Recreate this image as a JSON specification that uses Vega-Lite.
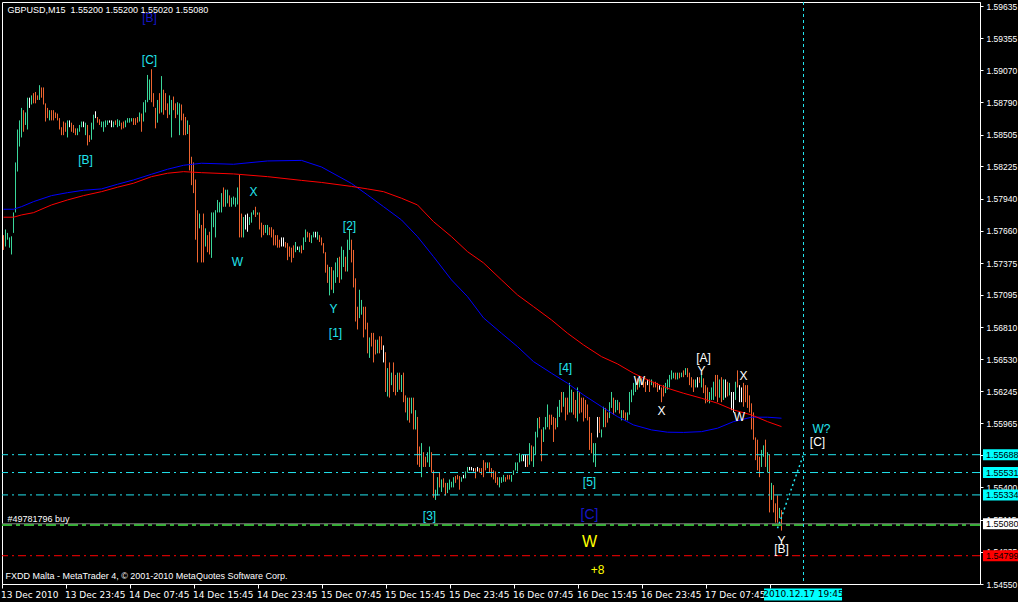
{
"$schema":"https://vega.github.io/schema/vega-lite/v6.json",
"width":978,"height":582,
"autosize":{"type":"none"},
"padding":{"left":2,"top":2,"right":38,"bottom":18},
"background":"#000000",
"config":{"view":{"stroke":"#ffffff","strokeWidth":1,"fill":"#000000"},"font":"Liberation Sans",
 "axis":{"labelOverlap":false,"labelFlush":false,"labelBound":false,"grid":false,"title":null},
 "axisQuantitative":{"labelOverlap":false,"tickCount":40},
 "axisY":{"labelOverlap":false}},
"resolve":{"scale":{"color":"independent"}},
"datasets":{
"bars":[
{"t":"2010-12-13T15:45Z","h":1.5762,"l":1.5749,"c":"d"},
{"t":"2010-12-13T16:00Z","h":1.5767,"l":1.5752,"c":"u"},
{"t":"2010-12-13T16:15Z","h":1.5764,"l":1.5758,"c":"u"},
{"t":"2010-12-13T16:30Z","h":1.5760,"l":1.5751,"c":"u"},
{"t":"2010-12-13T16:45Z","h":1.5761,"l":1.5745,"c":"u"},
{"t":"2010-12-13T17:00Z","h":1.5782,"l":1.5764,"c":"u"},
{"t":"2010-12-13T17:15Z","h":1.5826,"l":1.5782,"c":"u"},
{"t":"2010-12-13T17:30Z","h":1.5855,"l":1.5818,"c":"u"},
{"t":"2010-12-13T17:45Z","h":1.5863,"l":1.5840,"c":"u"},
{"t":"2010-12-13T18:00Z","h":1.5874,"l":1.5848,"c":"u"},
{"t":"2010-12-13T18:15Z","h":1.5872,"l":1.5853,"c":"d"},
{"t":"2010-12-13T18:30Z","h":1.5870,"l":1.5859,"c":"u"},
{"t":"2010-12-13T18:45Z","h":1.5883,"l":1.5855,"c":"u"},
{"t":"2010-12-13T19:00Z","h":1.5883,"l":1.5874,"c":"n"},
{"t":"2010-12-13T19:15Z","h":1.5885,"l":1.5877,"c":"u"},
{"t":"2010-12-13T19:30Z","h":1.5887,"l":1.5878,"c":"d"},
{"t":"2010-12-13T19:45Z","h":1.5888,"l":1.5878,"c":"d"},
{"t":"2010-12-13T20:00Z","h":1.5885,"l":1.5881,"c":"d"},
{"t":"2010-12-13T20:15Z","h":1.5894,"l":1.5881,"c":"u"},
{"t":"2010-12-13T20:30Z","h":1.5892,"l":1.5883,"c":"d"},
{"t":"2010-12-13T20:45Z","h":1.5892,"l":1.5877,"c":"d"},
{"t":"2010-12-13T21:00Z","h":1.5878,"l":1.5862,"c":"d"},
{"t":"2010-12-13T21:15Z","h":1.5874,"l":1.5865,"c":"d"},
{"t":"2010-12-13T21:30Z","h":1.5872,"l":1.5863,"c":"u"},
{"t":"2010-12-13T21:45Z","h":1.5872,"l":1.5863,"c":"d"},
{"t":"2010-12-13T22:00Z","h":1.5872,"l":1.5863,"c":"d"},
{"t":"2010-12-13T22:15Z","h":1.5870,"l":1.5865,"c":"d"},
{"t":"2010-12-13T22:30Z","h":1.5869,"l":1.5863,"c":"d"},
{"t":"2010-12-13T22:45Z","h":1.5865,"l":1.5855,"c":"d"},
{"t":"2010-12-13T23:00Z","h":1.5857,"l":1.5850,"c":"d"},
{"t":"2010-12-13T23:15Z","h":1.5862,"l":1.5850,"c":"d"},
{"t":"2010-12-13T23:30Z","h":1.5861,"l":1.5853,"c":"d"},
{"t":"2010-12-13T23:45Z","h":1.5863,"l":1.5848,"c":"u"},
{"t":"2010-12-14T00:00Z","h":1.5863,"l":1.5857,"c":"n"},
{"t":"2010-12-14T00:15Z","h":1.5861,"l":1.5853,"c":"d"},
{"t":"2010-12-14T00:30Z","h":1.5859,"l":1.5852,"c":"d"},
{"t":"2010-12-14T00:45Z","h":1.5856,"l":1.5850,"c":"d"},
{"t":"2010-12-14T01:00Z","h":1.5856,"l":1.5850,"c":"u"},
{"t":"2010-12-14T01:15Z","h":1.5859,"l":1.5853,"c":"u"},
{"t":"2010-12-14T01:30Z","h":1.5862,"l":1.5857,"c":"u"},
{"t":"2010-12-14T01:45Z","h":1.5862,"l":1.5857,"c":"n"},
{"t":"2010-12-14T02:00Z","h":1.5861,"l":1.5850,"c":"u"},
{"t":"2010-12-14T02:15Z","h":1.5859,"l":1.5841,"c":"d"},
{"t":"2010-12-14T02:30Z","h":1.5850,"l":1.5844,"c":"d"},
{"t":"2010-12-14T02:45Z","h":1.5861,"l":1.5846,"c":"u"},
{"t":"2010-12-14T03:00Z","h":1.5868,"l":1.5855,"c":"u"},
{"t":"2010-12-14T03:15Z","h":1.5871,"l":1.5865,"c":"n"},
{"t":"2010-12-14T03:30Z","h":1.5866,"l":1.5861,"c":"d"},
{"t":"2010-12-14T03:45Z","h":1.5864,"l":1.5859,"c":"d"},
{"t":"2010-12-14T04:00Z","h":1.5862,"l":1.5857,"c":"u"},
{"t":"2010-12-14T04:15Z","h":1.5862,"l":1.5853,"c":"u"},
{"t":"2010-12-14T04:30Z","h":1.5863,"l":1.5857,"c":"u"},
{"t":"2010-12-14T04:45Z","h":1.5863,"l":1.5859,"c":"u"},
{"t":"2010-12-14T05:00Z","h":1.5863,"l":1.5861,"c":"n"},
{"t":"2010-12-14T05:15Z","h":1.5863,"l":1.5857,"c":"n"},
{"t":"2010-12-14T05:30Z","h":1.5862,"l":1.5857,"c":"u"},
{"t":"2010-12-14T05:45Z","h":1.5863,"l":1.5859,"c":"d"},
{"t":"2010-12-14T06:00Z","h":1.5864,"l":1.5857,"c":"u"},
{"t":"2010-12-14T06:15Z","h":1.5863,"l":1.5858,"c":"u"},
{"t":"2010-12-14T06:30Z","h":1.5861,"l":1.5855,"c":"d"},
{"t":"2010-12-14T06:45Z","h":1.5862,"l":1.5856,"c":"d"},
{"t":"2010-12-14T07:00Z","h":1.5863,"l":1.5857,"c":"u"},
{"t":"2010-12-14T07:15Z","h":1.5865,"l":1.5861,"c":"u"},
{"t":"2010-12-14T07:30Z","h":1.5865,"l":1.5861,"c":"u"},
{"t":"2010-12-14T07:45Z","h":1.5865,"l":1.5862,"c":"u"},
{"t":"2010-12-14T08:00Z","h":1.5865,"l":1.5859,"c":"d"},
{"t":"2010-12-14T08:15Z","h":1.5865,"l":1.5859,"c":"d"},
{"t":"2010-12-14T08:30Z","h":1.5866,"l":1.5861,"c":"d"},
{"t":"2010-12-14T08:45Z","h":1.5870,"l":1.5862,"c":"u"},
{"t":"2010-12-14T09:00Z","h":1.5869,"l":1.5853,"c":"d"},
{"t":"2010-12-14T09:15Z","h":1.5879,"l":1.5862,"c":"u"},
{"t":"2010-12-14T09:30Z","h":1.5881,"l":1.5870,"c":"u"},
{"t":"2010-12-14T09:45Z","h":1.5903,"l":1.5879,"c":"u"},
{"t":"2010-12-14T10:00Z","h":1.5899,"l":1.5881,"c":"u"},
{"t":"2010-12-14T10:15Z","h":1.5908,"l":1.5879,"c":"d"},
{"t":"2010-12-14T10:30Z","h":1.5887,"l":1.5875,"c":"d"},
{"t":"2010-12-14T10:45Z","h":1.5874,"l":1.5856,"c":"d"},
{"t":"2010-12-14T11:00Z","h":1.5881,"l":1.5861,"c":"u"},
{"t":"2010-12-14T11:15Z","h":1.5887,"l":1.5869,"c":"d"},
{"t":"2010-12-14T11:30Z","h":1.5902,"l":1.5870,"c":"u"},
{"t":"2010-12-14T11:45Z","h":1.5890,"l":1.5868,"c":"d"},
{"t":"2010-12-14T12:00Z","h":1.5887,"l":1.5872,"c":"d"},
{"t":"2010-12-14T12:15Z","h":1.5878,"l":1.5865,"c":"d"},
{"t":"2010-12-14T12:30Z","h":1.5885,"l":1.5868,"c":"u"},
{"t":"2010-12-14T12:45Z","h":1.5881,"l":1.5848,"c":"u"},
{"t":"2010-12-14T13:00Z","h":1.5884,"l":1.5872,"c":"d"},
{"t":"2010-12-14T13:15Z","h":1.5878,"l":1.5865,"c":"d"},
{"t":"2010-12-14T13:30Z","h":1.5879,"l":1.5868,"c":"u"},
{"t":"2010-12-14T13:45Z","h":1.5878,"l":1.5850,"c":"u"},
{"t":"2010-12-14T14:00Z","h":1.5877,"l":1.5863,"c":"d"},
{"t":"2010-12-14T14:15Z","h":1.5869,"l":1.5850,"c":"d"},
{"t":"2010-12-14T14:30Z","h":1.5866,"l":1.5850,"c":"d"},
{"t":"2010-12-14T14:45Z","h":1.5863,"l":1.5851,"c":"u"},
{"t":"2010-12-14T15:00Z","h":1.5859,"l":1.5819,"c":"d"},
{"t":"2010-12-14T15:15Z","h":1.5831,"l":1.5806,"c":"d"},
{"t":"2010-12-14T15:30Z","h":1.5826,"l":1.5799,"c":"d"},
{"t":"2010-12-14T15:45Z","h":1.5811,"l":1.5758,"c":"d"},
{"t":"2010-12-14T16:00Z","h":1.5784,"l":1.5738,"c":"d"},
{"t":"2010-12-14T16:15Z","h":1.5781,"l":1.5768,"c":"u"},
{"t":"2010-12-14T16:30Z","h":1.5771,"l":1.5738,"c":"d"},
{"t":"2010-12-14T16:45Z","h":1.5781,"l":1.5738,"c":"d"},
{"t":"2010-12-14T17:00Z","h":1.5768,"l":1.5752,"c":"u"},
{"t":"2010-12-14T17:15Z","h":1.5762,"l":1.5747,"c":"d"},
{"t":"2010-12-14T17:30Z","h":1.5765,"l":1.5745,"c":"d"},
{"t":"2010-12-14T17:45Z","h":1.5782,"l":1.5742,"c":"u"},
{"t":"2010-12-14T18:00Z","h":1.5782,"l":1.5769,"c":"u"},
{"t":"2010-12-14T18:15Z","h":1.5784,"l":1.5760,"c":"u"},
{"t":"2010-12-14T18:30Z","h":1.5793,"l":1.5782,"c":"u"},
{"t":"2010-12-14T18:45Z","h":1.5791,"l":1.5782,"c":"u"},
{"t":"2010-12-14T19:00Z","h":1.5799,"l":1.5782,"c":"u"},
{"t":"2010-12-14T19:15Z","h":1.5804,"l":1.5787,"c":"d"},
{"t":"2010-12-14T19:30Z","h":1.5802,"l":1.5787,"c":"u"},
{"t":"2010-12-14T19:45Z","h":1.5802,"l":1.5790,"c":"u"},
{"t":"2010-12-14T20:00Z","h":1.5797,"l":1.5787,"c":"d"},
{"t":"2010-12-14T20:15Z","h":1.5795,"l":1.5787,"c":"u"},
{"t":"2010-12-14T20:30Z","h":1.5796,"l":1.5789,"c":"u"},
{"t":"2010-12-14T20:45Z","h":1.5795,"l":1.5787,"c":"u"},
{"t":"2010-12-14T21:00Z","h":1.5804,"l":1.5789,"c":"u"},
{"t":"2010-12-14T21:15Z","h":1.5815,"l":1.5760,"c":"d"},
{"t":"2010-12-14T21:30Z","h":1.5781,"l":1.5760,"c":"d"},
{"t":"2010-12-14T21:45Z","h":1.5778,"l":1.5760,"c":"u"},
{"t":"2010-12-14T22:00Z","h":1.5780,"l":1.5767,"c":"n"},
{"t":"2010-12-14T22:15Z","h":1.5781,"l":1.5765,"c":"n"},
{"t":"2010-12-14T22:30Z","h":1.5778,"l":1.5771,"c":"u"},
{"t":"2010-12-14T22:45Z","h":1.5782,"l":1.5773,"c":"u"},
{"t":"2010-12-14T23:00Z","h":1.5784,"l":1.5780,"c":"u"},
{"t":"2010-12-14T23:15Z","h":1.5787,"l":1.5778,"c":"d"},
{"t":"2010-12-14T23:30Z","h":1.5782,"l":1.5780,"c":"u"},
{"t":"2010-12-14T23:45Z","h":1.5782,"l":1.5767,"c":"d"},
{"t":"2010-12-15T00:00Z","h":1.5773,"l":1.5760,"c":"d"},
{"t":"2010-12-15T00:15Z","h":1.5771,"l":1.5762,"c":"d"},
{"t":"2010-12-15T00:30Z","h":1.5771,"l":1.5764,"c":"u"},
{"t":"2010-12-15T00:45Z","h":1.5771,"l":1.5762,"c":"u"},
{"t":"2010-12-15T01:00Z","h":1.5769,"l":1.5762,"c":"d"},
{"t":"2010-12-15T01:15Z","h":1.5769,"l":1.5760,"c":"d"},
{"t":"2010-12-15T01:30Z","h":1.5767,"l":1.5753,"c":"d"},
{"t":"2010-12-15T01:45Z","h":1.5762,"l":1.5753,"c":"d"},
{"t":"2010-12-15T02:00Z","h":1.5762,"l":1.5751,"c":"d"},
{"t":"2010-12-15T02:15Z","h":1.5758,"l":1.5751,"c":"d"},
{"t":"2010-12-15T02:30Z","h":1.5760,"l":1.5752,"c":"n"},
{"t":"2010-12-15T02:45Z","h":1.5760,"l":1.5752,"c":"n"},
{"t":"2010-12-15T03:00Z","h":1.5756,"l":1.5751,"c":"d"},
{"t":"2010-12-15T03:15Z","h":1.5755,"l":1.5740,"c":"d"},
{"t":"2010-12-15T03:30Z","h":1.5752,"l":1.5743,"c":"d"},
{"t":"2010-12-15T03:45Z","h":1.5751,"l":1.5738,"c":"d"},
{"t":"2010-12-15T04:00Z","h":1.5753,"l":1.5742,"c":"d"},
{"t":"2010-12-15T04:15Z","h":1.5756,"l":1.5747,"c":"u"},
{"t":"2010-12-15T04:30Z","h":1.5752,"l":1.5749,"c":"n"},
{"t":"2010-12-15T04:45Z","h":1.5752,"l":1.5747,"c":"u"},
{"t":"2010-12-15T05:00Z","h":1.5753,"l":1.5746,"c":"d"},
{"t":"2010-12-15T05:15Z","h":1.5760,"l":1.5749,"c":"u"},
{"t":"2010-12-15T05:30Z","h":1.5767,"l":1.5756,"c":"u"},
{"t":"2010-12-15T05:45Z","h":1.5765,"l":1.5760,"c":"d"},
{"t":"2010-12-15T06:00Z","h":1.5764,"l":1.5756,"c":"d"},
{"t":"2010-12-15T06:15Z","h":1.5762,"l":1.5755,"c":"u"},
{"t":"2010-12-15T06:30Z","h":1.5765,"l":1.5760,"c":"u"},
{"t":"2010-12-15T06:45Z","h":1.5765,"l":1.5760,"c":"n"},
{"t":"2010-12-15T07:00Z","h":1.5765,"l":1.5758,"c":"u"},
{"t":"2010-12-15T07:15Z","h":1.5762,"l":1.5756,"c":"d"},
{"t":"2010-12-15T07:30Z","h":1.5760,"l":1.5753,"c":"d"},
{"t":"2010-12-15T07:45Z","h":1.5755,"l":1.5746,"c":"d"},
{"t":"2010-12-15T08:00Z","h":1.5747,"l":1.5729,"c":"d"},
{"t":"2010-12-15T08:15Z","h":1.5736,"l":1.5720,"c":"d"},
{"t":"2010-12-15T08:30Z","h":1.5734,"l":1.5709,"c":"u"},
{"t":"2010-12-15T08:45Z","h":1.5734,"l":1.5714,"c":"d"},
{"t":"2010-12-15T09:00Z","h":1.5731,"l":1.5711,"c":"u"},
{"t":"2010-12-15T09:15Z","h":1.5738,"l":1.5720,"c":"u"},
{"t":"2010-12-15T09:30Z","h":1.5742,"l":1.5725,"c":"u"},
{"t":"2010-12-15T09:45Z","h":1.5743,"l":1.5720,"c":"d"},
{"t":"2010-12-15T10:00Z","h":1.5752,"l":1.5723,"c":"u"},
{"t":"2010-12-15T10:15Z","h":1.5749,"l":1.5734,"c":"u"},
{"t":"2010-12-15T10:30Z","h":1.5743,"l":1.5730,"c":"d"},
{"t":"2010-12-15T10:45Z","h":1.5758,"l":1.5730,"c":"u"},
{"t":"2010-12-15T11:00Z","h":1.5767,"l":1.5749,"c":"u"},
{"t":"2010-12-15T11:15Z","h":1.5758,"l":1.5738,"c":"d"},
{"t":"2010-12-15T11:30Z","h":1.5749,"l":1.5716,"c":"d"},
{"t":"2010-12-15T11:45Z","h":1.5724,"l":1.5686,"c":"d"},
{"t":"2010-12-15T12:00Z","h":1.5699,"l":1.5679,"c":"d"},
{"t":"2010-12-15T12:15Z","h":1.5714,"l":1.5689,"c":"u"},
{"t":"2010-12-15T12:30Z","h":1.5705,"l":1.5692,"c":"u"},
{"t":"2010-12-15T12:45Z","h":1.5699,"l":1.5672,"c":"d"},
{"t":"2010-12-15T13:00Z","h":1.5699,"l":1.5679,"c":"d"},
{"t":"2010-12-15T13:15Z","h":1.5685,"l":1.5658,"c":"d"},
{"t":"2010-12-15T13:30Z","h":1.5672,"l":1.5654,"c":"u"},
{"t":"2010-12-15T13:45Z","h":1.5676,"l":1.5664,"c":"d"},
{"t":"2010-12-15T14:00Z","h":1.5676,"l":1.5650,"c":"d"},
{"t":"2010-12-15T14:15Z","h":1.5670,"l":1.5657,"c":"d"},
{"t":"2010-12-15T14:30Z","h":1.5670,"l":1.5658,"c":"u"},
{"t":"2010-12-15T14:45Z","h":1.5673,"l":1.5658,"c":"d"},
{"t":"2010-12-15T15:00Z","h":1.5673,"l":1.5661,"c":"d"},
{"t":"2010-12-15T15:15Z","h":1.5665,"l":1.5650,"c":"n"},
{"t":"2010-12-15T15:30Z","h":1.5659,"l":1.5624,"c":"d"},
{"t":"2010-12-15T15:45Z","h":1.5645,"l":1.5620,"c":"u"},
{"t":"2010-12-15T16:00Z","h":1.5650,"l":1.5619,"c":"d"},
{"t":"2010-12-15T16:15Z","h":1.5641,"l":1.5630,"c":"u"},
{"t":"2010-12-15T16:30Z","h":1.5650,"l":1.5624,"c":"d"},
{"t":"2010-12-15T16:45Z","h":1.5639,"l":1.5621,"c":"d"},
{"t":"2010-12-15T17:00Z","h":1.5641,"l":1.5624,"c":"u"},
{"t":"2010-12-15T17:15Z","h":1.5641,"l":1.5626,"c":"d"},
{"t":"2010-12-15T17:30Z","h":1.5639,"l":1.5624,"c":"u"},
{"t":"2010-12-15T17:45Z","h":1.5641,"l":1.5615,"c":"d"},
{"t":"2010-12-15T18:00Z","h":1.5621,"l":1.5606,"c":"d"},
{"t":"2010-12-15T18:15Z","h":1.5619,"l":1.5599,"c":"u"},
{"t":"2010-12-15T18:30Z","h":1.5619,"l":1.5597,"c":"d"},
{"t":"2010-12-15T18:45Z","h":1.5619,"l":1.5605,"c":"u"},
{"t":"2010-12-15T19:00Z","h":1.5619,"l":1.5591,"c":"d"},
{"t":"2010-12-15T19:15Z","h":1.5608,"l":1.5591,"c":"u"},
{"t":"2010-12-15T19:30Z","h":1.5602,"l":1.5560,"c":"d"},
{"t":"2010-12-15T19:45Z","h":1.5576,"l":1.5558,"c":"d"},
{"t":"2010-12-15T20:00Z","h":1.5579,"l":1.5549,"c":"u"},
{"t":"2010-12-15T20:15Z","h":1.5571,"l":1.5558,"c":"d"},
{"t":"2010-12-15T20:30Z","h":1.5567,"l":1.5558,"c":"d"},
{"t":"2010-12-15T20:45Z","h":1.5571,"l":1.5562,"c":"u"},
{"t":"2010-12-15T21:00Z","h":1.5576,"l":1.5558,"c":"u"},
{"t":"2010-12-15T21:15Z","h":1.5571,"l":1.5553,"c":"d"},
{"t":"2010-12-15T21:30Z","h":1.5555,"l":1.5531,"c":"d"},
{"t":"2010-12-15T21:45Z","h":1.5538,"l":1.5529,"c":"u"},
{"t":"2010-12-15T22:00Z","h":1.5549,"l":1.5533,"c":"u"},
{"t":"2010-12-15T22:15Z","h":1.5553,"l":1.5540,"c":"d"},
{"t":"2010-12-15T22:30Z","h":1.5547,"l":1.5536,"c":"u"},
{"t":"2010-12-15T22:45Z","h":1.5548,"l":1.5540,"c":"d"},
{"t":"2010-12-15T23:00Z","h":1.5544,"l":1.5533,"c":"d"},
{"t":"2010-12-15T23:15Z","h":1.5544,"l":1.5535,"c":"u"},
{"t":"2010-12-15T23:30Z","h":1.5547,"l":1.5538,"c":"u"},
{"t":"2010-12-15T23:45Z","h":1.5545,"l":1.5540,"c":"u"},
{"t":"2010-12-16T00:00Z","h":1.5549,"l":1.5540,"c":"u"},
{"t":"2010-12-16T00:15Z","h":1.5550,"l":1.5544,"c":"d"},
{"t":"2010-12-16T00:30Z","h":1.5551,"l":1.5547,"c":"d"},
{"t":"2010-12-16T00:45Z","h":1.5550,"l":1.5538,"c":"d"},
{"t":"2010-12-16T01:00Z","h":1.5549,"l":1.5545,"c":"u"},
{"t":"2010-12-16T01:15Z","h":1.5551,"l":1.5548,"c":"n"},
{"t":"2010-12-16T01:30Z","h":1.5554,"l":1.5548,"c":"u"},
{"t":"2010-12-16T01:45Z","h":1.5558,"l":1.5553,"c":"u"},
{"t":"2010-12-16T02:00Z","h":1.5558,"l":1.5555,"c":"n"},
{"t":"2010-12-16T02:15Z","h":1.5558,"l":1.5555,"c":"n"},
{"t":"2010-12-16T02:30Z","h":1.5557,"l":1.5554,"c":"n"},
{"t":"2010-12-16T02:45Z","h":1.5557,"l":1.5548,"c":"d"},
{"t":"2010-12-16T03:00Z","h":1.5558,"l":1.5554,"c":"n"},
{"t":"2010-12-16T03:15Z","h":1.5557,"l":1.5553,"c":"d"},
{"t":"2010-12-16T03:30Z","h":1.5557,"l":1.5551,"c":"d"},
{"t":"2010-12-16T03:45Z","h":1.5564,"l":1.5549,"c":"d"},
{"t":"2010-12-16T04:00Z","h":1.5562,"l":1.5555,"c":"d"},
{"t":"2010-12-16T04:15Z","h":1.5562,"l":1.5557,"c":"u"},
{"t":"2010-12-16T04:30Z","h":1.5562,"l":1.5553,"c":"d"},
{"t":"2010-12-16T04:45Z","h":1.5557,"l":1.5549,"c":"d"},
{"t":"2010-12-16T05:00Z","h":1.5555,"l":1.5547,"c":"d"},
{"t":"2010-12-16T05:15Z","h":1.5554,"l":1.5544,"c":"d"},
{"t":"2010-12-16T05:30Z","h":1.5549,"l":1.5542,"c":"d"},
{"t":"2010-12-16T05:45Z","h":1.5549,"l":1.5540,"c":"u"},
{"t":"2010-12-16T06:00Z","h":1.5549,"l":1.5544,"c":"u"},
{"t":"2010-12-16T06:15Z","h":1.5551,"l":1.5545,"c":"u"},
{"t":"2010-12-16T06:30Z","h":1.5549,"l":1.5545,"c":"d"},
{"t":"2010-12-16T06:45Z","h":1.5551,"l":1.5547,"c":"d"},
{"t":"2010-12-16T07:00Z","h":1.5551,"l":1.5547,"c":"d"},
{"t":"2010-12-16T07:15Z","h":1.5551,"l":1.5545,"c":"u"},
{"t":"2010-12-16T07:30Z","h":1.5555,"l":1.5551,"c":"u"},
{"t":"2010-12-16T07:45Z","h":1.5562,"l":1.5555,"c":"u"},
{"t":"2010-12-16T08:00Z","h":1.5562,"l":1.5554,"c":"u"},
{"t":"2010-12-16T08:15Z","h":1.5570,"l":1.5562,"c":"u"},
{"t":"2010-12-16T08:30Z","h":1.5569,"l":1.5563,"c":"u"},
{"t":"2010-12-16T08:45Z","h":1.5569,"l":1.5563,"c":"n"},
{"t":"2010-12-16T09:00Z","h":1.5569,"l":1.5558,"c":"n"},
{"t":"2010-12-16T09:15Z","h":1.5569,"l":1.5558,"c":"d"},
{"t":"2010-12-16T09:30Z","h":1.5579,"l":1.5560,"c":"u"},
{"t":"2010-12-16T09:45Z","h":1.5577,"l":1.5563,"c":"d"},
{"t":"2010-12-16T10:00Z","h":1.5576,"l":1.5558,"c":"u"},
{"t":"2010-12-16T10:15Z","h":1.5589,"l":1.5569,"c":"u"},
{"t":"2010-12-16T10:30Z","h":1.5601,"l":1.5584,"c":"u"},
{"t":"2010-12-16T10:45Z","h":1.5602,"l":1.5592,"c":"d"},
{"t":"2010-12-16T11:00Z","h":1.5591,"l":1.5563,"c":"d"},
{"t":"2010-12-16T11:15Z","h":1.5593,"l":1.5580,"c":"u"},
{"t":"2010-12-16T11:30Z","h":1.5602,"l":1.5591,"c":"u"},
{"t":"2010-12-16T11:45Z","h":1.5613,"l":1.5593,"c":"u"},
{"t":"2010-12-16T12:00Z","h":1.5604,"l":1.5591,"c":"d"},
{"t":"2010-12-16T12:15Z","h":1.5604,"l":1.5595,"c":"d"},
{"t":"2010-12-16T12:30Z","h":1.5602,"l":1.5580,"c":"d"},
{"t":"2010-12-16T12:45Z","h":1.5601,"l":1.5591,"c":"d"},
{"t":"2010-12-16T13:00Z","h":1.5611,"l":1.5593,"c":"u"},
{"t":"2010-12-16T13:15Z","h":1.5617,"l":1.5602,"c":"u"},
{"t":"2010-12-16T13:30Z","h":1.5624,"l":1.5606,"c":"d"},
{"t":"2010-12-16T13:45Z","h":1.5624,"l":1.5611,"c":"u"},
{"t":"2010-12-16T14:00Z","h":1.5619,"l":1.5599,"c":"d"},
{"t":"2010-12-16T14:15Z","h":1.5619,"l":1.5604,"c":"d"},
{"t":"2010-12-16T14:30Z","h":1.5632,"l":1.5606,"c":"u"},
{"t":"2010-12-16T14:45Z","h":1.5626,"l":1.5606,"c":"u"},
{"t":"2010-12-16T15:00Z","h":1.5624,"l":1.5604,"c":"d"},
{"t":"2010-12-16T15:15Z","h":1.5617,"l":1.5601,"c":"d"},
{"t":"2010-12-16T15:30Z","h":1.5628,"l":1.5598,"c":"u"},
{"t":"2010-12-16T15:45Z","h":1.5624,"l":1.5605,"c":"d"},
{"t":"2010-12-16T16:00Z","h":1.5619,"l":1.5606,"c":"d"},
{"t":"2010-12-16T16:15Z","h":1.5619,"l":1.5598,"c":"d"},
{"t":"2010-12-16T16:30Z","h":1.5617,"l":1.5601,"c":"d"},
{"t":"2010-12-16T16:45Z","h":1.5613,"l":1.5599,"c":"d"},
{"t":"2010-12-16T17:00Z","h":1.5602,"l":1.5573,"c":"d"},
{"t":"2010-12-16T17:15Z","h":1.5588,"l":1.5570,"c":"d"},
{"t":"2010-12-16T17:30Z","h":1.5579,"l":1.5562,"c":"u"},
{"t":"2010-12-16T17:45Z","h":1.5579,"l":1.5558,"c":"u"},
{"t":"2010-12-16T18:00Z","h":1.5602,"l":1.5584,"c":"n"},
{"t":"2010-12-16T18:15Z","h":1.5602,"l":1.5588,"c":"d"},
{"t":"2010-12-16T18:30Z","h":1.5591,"l":1.5584,"c":"u"},
{"t":"2010-12-16T18:45Z","h":1.5611,"l":1.5593,"c":"u"},
{"t":"2010-12-16T19:00Z","h":1.5610,"l":1.5593,"c":"d"},
{"t":"2010-12-16T19:15Z","h":1.5606,"l":1.5597,"c":"d"},
{"t":"2010-12-16T19:30Z","h":1.5615,"l":1.5601,"c":"u"},
{"t":"2010-12-16T19:45Z","h":1.5624,"l":1.5610,"c":"u"},
{"t":"2010-12-16T20:00Z","h":1.5619,"l":1.5604,"c":"d"},
{"t":"2010-12-16T20:15Z","h":1.5617,"l":1.5606,"c":"u"},
{"t":"2010-12-16T20:30Z","h":1.5617,"l":1.5608,"c":"u"},
{"t":"2010-12-16T20:45Z","h":1.5615,"l":1.5605,"c":"d"},
{"t":"2010-12-16T21:00Z","h":1.5608,"l":1.5599,"c":"u"},
{"t":"2010-12-16T21:15Z","h":1.5608,"l":1.5601,"c":"d"},
{"t":"2010-12-16T21:30Z","h":1.5606,"l":1.5599,"c":"d"},
{"t":"2010-12-16T21:45Z","h":1.5606,"l":1.5599,"c":"u"},
{"t":"2010-12-16T22:00Z","h":1.5624,"l":1.5604,"c":"u"},
{"t":"2010-12-16T22:15Z","h":1.5626,"l":1.5615,"c":"u"},
{"t":"2010-12-16T22:30Z","h":1.5632,"l":1.5621,"c":"u"},
{"t":"2010-12-16T22:45Z","h":1.5635,"l":1.5624,"c":"u"},
{"t":"2010-12-16T23:00Z","h":1.5636,"l":1.5626,"c":"d"},
{"t":"2010-12-16T23:15Z","h":1.5635,"l":1.5628,"c":"u"},
{"t":"2010-12-16T23:30Z","h":1.5636,"l":1.5630,"c":"d"},
{"t":"2010-12-16T23:45Z","h":1.5635,"l":1.5628,"c":"d"},
{"t":"2010-12-17T00:00Z","h":1.5633,"l":1.5624,"c":"d"},
{"t":"2010-12-17T00:15Z","h":1.5635,"l":1.5630,"c":"n"},
{"t":"2010-12-17T00:30Z","h":1.5635,"l":1.5624,"c":"d"},
{"t":"2010-12-17T00:45Z","h":1.5635,"l":1.5630,"c":"u"},
{"t":"2010-12-17T01:00Z","h":1.5633,"l":1.5628,"c":"d"},
{"t":"2010-12-17T01:15Z","h":1.5633,"l":1.5628,"c":"d"},
{"t":"2010-12-17T01:30Z","h":1.5632,"l":1.5624,"c":"d"},
{"t":"2010-12-17T01:45Z","h":1.5630,"l":1.5626,"c":"n"},
{"t":"2010-12-17T02:00Z","h":1.5628,"l":1.5615,"c":"d"},
{"t":"2010-12-17T02:15Z","h":1.5630,"l":1.5620,"c":"d"},
{"t":"2010-12-17T02:30Z","h":1.5632,"l":1.5623,"c":"u"},
{"t":"2010-12-17T02:45Z","h":1.5635,"l":1.5626,"c":"u"},
{"t":"2010-12-17T03:00Z","h":1.5639,"l":1.5628,"c":"u"},
{"t":"2010-12-17T03:15Z","h":1.5643,"l":1.5635,"c":"u"},
{"t":"2010-12-17T03:30Z","h":1.5641,"l":1.5636,"c":"u"},
{"t":"2010-12-17T03:45Z","h":1.5641,"l":1.5635,"c":"d"},
{"t":"2010-12-17T04:00Z","h":1.5641,"l":1.5635,"c":"u"},
{"t":"2010-12-17T04:15Z","h":1.5641,"l":1.5636,"c":"d"},
{"t":"2010-12-17T04:30Z","h":1.5641,"l":1.5637,"c":"u"},
{"t":"2010-12-17T04:45Z","h":1.5643,"l":1.5637,"c":"d"},
{"t":"2010-12-17T05:00Z","h":1.5645,"l":1.5639,"c":"u"},
{"t":"2010-12-17T05:15Z","h":1.5645,"l":1.5637,"c":"d"},
{"t":"2010-12-17T05:30Z","h":1.5641,"l":1.5630,"c":"d"},
{"t":"2010-12-17T05:45Z","h":1.5637,"l":1.5628,"c":"d"},
{"t":"2010-12-17T06:00Z","h":1.5635,"l":1.5624,"c":"d"},
{"t":"2010-12-17T06:15Z","h":1.5635,"l":1.5628,"c":"u"},
{"t":"2010-12-17T06:30Z","h":1.5637,"l":1.5628,"c":"n"},
{"t":"2010-12-17T06:45Z","h":1.5637,"l":1.5632,"c":"d"},
{"t":"2010-12-17T07:00Z","h":1.5639,"l":1.5628,"c":"u"},
{"t":"2010-12-17T07:15Z","h":1.5636,"l":1.5623,"c":"d"},
{"t":"2010-12-17T07:30Z","h":1.5630,"l":1.5614,"c":"d"},
{"t":"2010-12-17T07:45Z","h":1.5628,"l":1.5615,"c":"d"},
{"t":"2010-12-17T08:00Z","h":1.5624,"l":1.5614,"c":"u"},
{"t":"2010-12-17T08:15Z","h":1.5628,"l":1.5617,"c":"u"},
{"t":"2010-12-17T08:30Z","h":1.5633,"l":1.5617,"c":"u"},
{"t":"2010-12-17T08:45Z","h":1.5639,"l":1.5620,"c":"d"},
{"t":"2010-12-17T09:00Z","h":1.5639,"l":1.5615,"c":"d"},
{"t":"2010-12-17T09:15Z","h":1.5635,"l":1.5619,"c":"u"},
{"t":"2010-12-17T09:30Z","h":1.5637,"l":1.5615,"c":"d"},
{"t":"2010-12-17T09:45Z","h":1.5635,"l":1.5617,"c":"u"},
{"t":"2010-12-17T10:00Z","h":1.5635,"l":1.5619,"c":"n"},
{"t":"2010-12-17T10:15Z","h":1.5633,"l":1.5620,"c":"d"},
{"t":"2010-12-17T10:30Z","h":1.5632,"l":1.5621,"c":"u"},
{"t":"2010-12-17T10:45Z","h":1.5624,"l":1.5608,"c":"n"},
{"t":"2010-12-17T11:00Z","h":1.5624,"l":1.5606,"c":"n"},
{"t":"2010-12-17T11:15Z","h":1.5633,"l":1.5617,"c":"u"},
{"t":"2010-12-17T11:30Z","h":1.5643,"l":1.5628,"c":"d"},
{"t":"2010-12-17T11:45Z","h":1.5630,"l":1.5615,"c":"n"},
{"t":"2010-12-17T12:00Z","h":1.5628,"l":1.5615,"c":"n"},
{"t":"2010-12-17T12:15Z","h":1.5632,"l":1.5611,"c":"d"},
{"t":"2010-12-17T12:30Z","h":1.5630,"l":1.5615,"c":"d"},
{"t":"2010-12-17T12:45Z","h":1.5630,"l":1.5610,"c":"d"},
{"t":"2010-12-17T13:00Z","h":1.5621,"l":1.5606,"c":"d"},
{"t":"2010-12-17T13:15Z","h":1.5614,"l":1.5591,"c":"d"},
{"t":"2010-12-17T13:30Z","h":1.5606,"l":1.5582,"c":"d"},
{"t":"2010-12-17T13:45Z","h":1.5584,"l":1.5564,"c":"d"},
{"t":"2010-12-17T14:00Z","h":1.5582,"l":1.5555,"c":"d"},
{"t":"2010-12-17T14:15Z","h":1.5567,"l":1.5549,"c":"d"},
{"t":"2010-12-17T14:30Z","h":1.5573,"l":1.5558,"c":"u"},
{"t":"2010-12-17T14:45Z","h":1.5577,"l":1.5567,"c":"u"},
{"t":"2010-12-17T15:00Z","h":1.5582,"l":1.5558,"c":"d"},
{"t":"2010-12-17T15:15Z","h":1.5571,"l":1.5553,"c":"u"},
{"t":"2010-12-17T15:30Z","h":1.5569,"l":1.5518,"c":"d"},
{"t":"2010-12-17T15:45Z","h":1.5544,"l":1.5529,"c":"u"},
{"t":"2010-12-17T16:00Z","h":1.5542,"l":1.5518,"c":"d"},
{"t":"2010-12-17T16:15Z","h":1.5526,"l":1.5509,"c":"d"},
{"t":"2010-12-17T16:30Z","h":1.5533,"l":1.5509,"c":"d"},
{"t":"2010-12-17T16:45Z","h":1.5522,"l":1.5513,"c":"u"},
{"t":"2010-12-17T17:00Z","h":1.5520,"l":1.5502,"c":"d"}
],
"ma":[
{"t":"2010-12-13T15:45Z","b":1.57848,"r":1.57778},
{"t":"2010-12-13T17:00Z","b":1.57848,"r":1.57778},
{"t":"2010-12-13T18:00Z","b":1.57871,"r":1.57798},
{"t":"2010-12-13T19:30Z","b":1.57915,"r":1.57818},
{"t":"2010-12-13T21:45Z","b":1.57968,"r":1.57886},
{"t":"2010-12-13T23:45Z","b":1.57994,"r":1.5793},
{"t":"2010-12-14T01:45Z","b":1.58015,"r":1.57968},
{"t":"2010-12-14T04:00Z","b":1.58027,"r":1.58003},
{"t":"2010-12-14T06:00Z","b":1.58068,"r":1.58042},
{"t":"2010-12-14T08:00Z","b":1.58106,"r":1.58077},
{"t":"2010-12-14T10:15Z","b":1.58156,"r":1.58135},
{"t":"2010-12-14T12:15Z","b":1.582,"r":1.58165},
{"t":"2010-12-14T14:15Z","b":1.58235,"r":1.58179},
{"t":"2010-12-14T16:30Z","b":1.58253,"r":1.5817},
{"t":"2010-12-14T20:30Z","b":1.58244,"r":1.58159},
{"t":"2010-12-15T00:45Z","b":1.58273,"r":1.58135},
{"t":"2010-12-15T05:00Z","b":1.58278,"r":1.58102},
{"t":"2010-12-15T07:30Z","b":1.5822,"r":1.58084},
{"t":"2010-12-15T11:15Z","b":1.58075,"r":1.58049},
{"t":"2010-12-15T13:15Z","b":1.57974,"r":1.58027},
{"t":"2010-12-15T15:15Z","b":1.57871,"r":1.58003},
{"t":"2010-12-15T17:30Z","b":1.57754,"r":1.57945},
{"t":"2010-12-15T19:30Z","b":1.57607,"r":1.57886},
{"t":"2010-12-15T21:30Z","b":1.57431,"r":1.57739},
{"t":"2010-12-15T23:45Z","b":1.57226,"r":1.57607},
{"t":"2010-12-16T01:45Z","b":1.57079,"r":1.57475},
{"t":"2010-12-16T03:45Z","b":1.56892,"r":1.57376},
{"t":"2010-12-16T06:00Z","b":1.56757,"r":1.57226},
{"t":"2010-12-16T08:00Z","b":1.56639,"r":1.57094},
{"t":"2010-12-16T10:00Z","b":1.56507,"r":1.56991},
{"t":"2010-12-16T12:15Z","b":1.56405,"r":1.56874},
{"t":"2010-12-16T14:15Z","b":1.56317,"r":1.56757},
{"t":"2010-12-16T16:15Z","b":1.56214,"r":1.56654},
{"t":"2010-12-16T18:30Z","b":1.56111,"r":1.56551},
{"t":"2010-12-16T20:30Z","b":1.56023,"r":1.56487},
{"t":"2010-12-16T22:30Z","b":1.5595,"r":1.56405},
{"t":"2010-12-17T00:45Z","b":1.55906,"r":1.56331},
{"t":"2010-12-17T02:45Z","b":1.55886,"r":1.56273},
{"t":"2010-12-17T04:45Z","b":1.55884,"r":1.56229},
{"t":"2010-12-17T07:00Z","b":1.55891,"r":1.56185},
{"t":"2010-12-17T09:00Z","b":1.55921,"r":1.56141},
{"t":"2010-12-17T11:00Z","b":1.55979,"r":1.56082},
{"t":"2010-12-17T13:15Z","b":1.56018,"r":1.56038},
{"t":"2010-12-17T15:15Z","b":1.56018,"r":1.55979},
{"t":"2010-12-17T17:00Z","b":1.56009,"r":1.55935}
],
"ann":[
{"t":"2010-12-14T10:00Z","p":1.59532,"s":"[B]","g":"primary"},
{"t":"2010-12-14T10:00Z","p":1.59158,"s":"[C]","g":"minor"},
{"t":"2010-12-14T02:00Z","p":1.58282,"s":"[B]","g":"minor"},
{"t":"2010-12-14T23:00Z","p":1.57996,"s":"X","g":"minor"},
{"t":"2010-12-14T21:00Z","p":1.5738,"s":"W","g":"minor"},
{"t":"2010-12-15T11:00Z","p":1.57697,"s":"[2]","g":"minor"},
{"t":"2010-12-15T09:00Z","p":1.56966,"s":"Y","g":"minor"},
{"t":"2010-12-15T09:15Z","p":1.5676,"s":"[1]","g":"minor"},
{"t":"2010-12-15T21:00Z","p":1.55145,"s":"[3]","g":"minor"},
{"t":"2010-12-16T14:00Z","p":1.56447,"s":"[4]","g":"minor"},
{"t":"2010-12-16T17:00Z","p":1.55444,"s":"[5]","g":"minor"},
{"t":"2010-12-16T18:00Z","p":1.5467,"s":"+8","g":"count"},
{"t":"2010-12-16T23:15Z","p":1.56337,"s":"W","g":"minute"},
{"t":"2010-12-17T02:00Z","p":1.56069,"s":"X","g":"minute"},
{"t":"2010-12-17T07:15Z","p":1.5654,"s":"[A]","g":"minute"},
{"t":"2010-12-17T07:00Z","p":1.56421,"s":"Y","g":"minute"},
{"t":"2010-12-17T12:15Z","p":1.56377,"s":"X","g":"minute"},
{"t":"2010-12-17T11:45Z","p":1.56016,"s":"W","g":"minute"},
{"t":"2010-12-17T17:00Z","p":1.54929,"s":"Y","g":"minute"},
{"t":"2010-12-17T17:00Z","p":1.54859,"s":"[B]","g":"minute"},
{"t":"2010-12-17T22:00Z","p":1.55915,"s":"W?","g":"minor"},
{"t":"2010-12-17T21:30Z","p":1.55796,"s":"[C]","g":"minute"}
],
"info":[
{"t":"2010-12-13T16:15Z","p":1.59573,"s":"GBPUSD,M15\u00a0\u00a01.55200 1.55200 1.55020 1.55080"},
{"t":"2010-12-13T16:00Z","p":1.5459,"s":"FXDD Malta - MetaTrader 4, © 2001-2010 MetaQuotes Software Corp."},
{"t":"2010-12-13T16:15Z","p":1.5510,"s":"#49781796 buy"}
],
"boxes":[
{"p":1.55688,"k":"level"},
{"p":1.55531,"k":"level"},
{"p":1.55334,"k":"level"},
{"p":1.5508,"k":"bid"},
{"p":1.54799,"k":"stop"}
],
"proj":[
{"t":"2010-12-17T16:30Z","p":1.5504},
{"t":"2010-12-17T19:45Z","p":1.5569}
]
},
"layer":[
{"data":{"name":"bars"},
 "mark":{"type":"rule","strokeWidth":1},
 "encoding":{
  "x":{"field":"t","type":"temporal","scale":{"type":"utc","domain":[{"year":2010,"month":12,"date":13,"hours":15,"minutes":33,"seconds":45,"utc":true},{"year":2010,"month":12,"date":18,"hours":17,"minutes":48,"seconds":45,"utc":true}]},
   "axis":{"title":null,"grid":false,"orient":"bottom","domainColor":"#ffffff","tickColor":"#ffffff","tickSize":4,"tickOffset":-2,"labelColor":"#ffffff","labelFont":"DejaVu Sans","labelFontSize":9,"labelAlign":"left","labelBaseline":"top","labelPadding":2,"labelOffset":-1,"labelOverlap":false,"labelFlush":false,"labelBound":false,
    "values":[{"year":2010,"month":12,"date":13,"hours":15,"minutes":45,"utc":true},{"year":2010,"month":12,"date":13,"hours":23,"minutes":45,"utc":true},{"year":2010,"month":12,"date":14,"hours":7,"minutes":45,"utc":true},{"year":2010,"month":12,"date":14,"hours":15,"minutes":45,"utc":true},{"year":2010,"month":12,"date":14,"hours":23,"minutes":45,"utc":true},{"year":2010,"month":12,"date":15,"hours":7,"minutes":45,"utc":true},{"year":2010,"month":12,"date":15,"hours":15,"minutes":45,"utc":true},{"year":2010,"month":12,"date":15,"hours":23,"minutes":45,"utc":true},{"year":2010,"month":12,"date":16,"hours":7,"minutes":45,"utc":true},{"year":2010,"month":12,"date":16,"hours":15,"minutes":45,"utc":true},{"year":2010,"month":12,"date":16,"hours":23,"minutes":45,"utc":true},{"year":2010,"month":12,"date":17,"hours":7,"minutes":45,"utc":true},{"year":2010,"month":12,"date":17,"hours":15,"minutes":45,"utc":true}],
    "labelExpr":"utcFormat(datum.value, '%d %H:%M') == '13 15:45' ? '13 Dec 2010' : utcFormat(datum.value, '%d %b %H:%M')"}},
  "y":{"field":"l","type":"quantitative","scale":{"domain":[1.5455,1.59672],"zero":false,"nice":false},
   "axis":{"title":null,"grid":false,"orient":"right","domainColor":"#ffffff","tickColor":"#ffffff","tickSize":3,"labelColor":"#ffffff","labelFont":"Liberation Sans","labelFontSize":8.5,"labelPadding":3,"labelOverlap":false,"labelFlush":false,"labelBound":false,"format":".5f",
    "values":[1.59635,1.59355,1.5907,1.5879,1.58505,1.58225,1.5794,1.5766,1.57375,1.57095,1.5681,1.5653,1.56245,1.55965,1.55685,1.554,1.55115,1.54835,1.5455]}},
  "y2":{"field":"h"},
  "color":{"field":"c","type":"nominal","scale":{"domain":["u","d","n"],"range":["#3ad69a","#ee6430","#ffffff"]},"legend":null}
 }},
{"data":{"name":"ma"},
 "mark":{"type":"line","color":"#0000ff","strokeWidth":1},
 "encoding":{"x":{"field":"t","type":"temporal"},"y":{"field":"b","type":"quantitative"}}},
{"data":{"name":"ma"},
 "mark":{"type":"line","color":"#ff0000","strokeWidth":1},
 "encoding":{"x":{"field":"t","type":"temporal"},"y":{"field":"r","type":"quantitative"}}},
{"data":{"name":"boxes"},
 "transform":[{"filter":"datum.k == 'level'"}],
 "mark":{"type":"rule","color":"#22e4ee","strokeWidth":1,"strokeDash":[8,4,2,4]},
 "encoding":{"y":{"field":"p","type":"quantitative"}}},
{"data":{"name":"boxes"},
 "transform":[{"filter":"datum.k == 'stop'"}],
 "mark":{"type":"rule","color":"#ff0000","strokeWidth":1,"strokeDash":[8,4,2,4]},
 "encoding":{"y":{"field":"p","type":"quantitative"}}},
{"data":{"values":[{"p":1.5507}]},
 "mark":{"type":"rule","color":"#2fb52f","strokeWidth":2,"strokeDash":[10,4,4,4]},
 "encoding":{"y":{"field":"p","type":"quantitative"}}},
{"data":{"name":"boxes"},
 "transform":[{"filter":"datum.k == 'bid'"}],
 "mark":{"type":"rule","color":"#808080","strokeWidth":1},
 "encoding":{"y":{"field":"p","type":"quantitative"}}},
{"data":{"values":[{"t":"2010-12-17T19:45Z"}]},
 "mark":{"type":"rule","color":"#22e4ee","strokeWidth":1,"strokeDash":[3,3]},
 "encoding":{"x":{"field":"t","type":"temporal"}}},
{"data":{"name":"proj"},
 "mark":{"type":"line","color":"#22e4ee","strokeWidth":1.5,"strokeDash":[2,3]},
 "encoding":{"x":{"field":"t","type":"temporal"},"y":{"field":"p","type":"quantitative"}}},
{"data":{"name":"ann"},
 "mark":{"type":"text","font":"Liberation Sans","fontSize":12,"align":"center","baseline":"middle"},
 "encoding":{"x":{"field":"t","type":"temporal"},"y":{"field":"p","type":"quantitative"},"text":{"field":"s"},
  "color":{"field":"g","type":"nominal","scale":{"domain":["minor","minute","primary","count"],"range":["#22e4ee","#ffffff","#1616c8","#ffff00"]},"legend":null}}},
{"data":{"values":[{"t":"2010-12-16T17:00Z","p":1.55154,"s":"[C]"}]},
 "mark":{"type":"text","font":"Liberation Sans","fontSize":14,"align":"center","baseline":"middle","color":"#1616c8"},
 "encoding":{"x":{"field":"t","type":"temporal"},"y":{"field":"p","type":"quantitative"},"text":{"field":"s"}}},
{"data":{"values":[{"t":"2010-12-16T17:00Z","p":1.5492,"s":"W"}]},
 "mark":{"type":"text","font":"Liberation Sans","fontSize":16,"align":"center","baseline":"middle","color":"#ffff00"},
 "encoding":{"x":{"field":"t","type":"temporal"},"y":{"field":"p","type":"quantitative"},"text":{"field":"s"}}},
{"data":{"name":"info"},
 "mark":{"type":"text","font":"Liberation Sans","fontSize":9,"align":"left","baseline":"alphabetic","color":"#ffffff"},
 "encoding":{"x":{"field":"t","type":"temporal"},"y":{"field":"p","type":"quantitative"},"text":{"field":"s"}}},
{"data":{"name":"boxes"},
 "mark":{"type":"rule","strokeWidth":11},
 "encoding":{"x":{"datum":{"year":2010,"month":12,"date":18,"hours":18,"minutes":11,"utc":true},"type":"temporal"},
  "x2":{"datum":{"year":2010,"month":12,"date":18,"hours":22,"minutes":41,"utc":true}},
  "y":{"field":"p","type":"quantitative"},
  "color":{"field":"k","type":"nominal","scale":{"domain":["level","bid","stop"],"range":["#00ffff","#ffffff","#ff0000"]},"legend":null}}},
{"data":{"name":"boxes"},
 "mark":{"type":"text","font":"Liberation Sans","fontSize":9,"align":"left","baseline":"middle","color":"#000000"},
 "encoding":{"x":{"datum":{"year":2010,"month":12,"date":18,"hours":18,"minutes":34,"utc":true},"type":"temporal"},
  "y":{"field":"p","type":"quantitative"},
  "text":{"field":"p","type":"quantitative","format":".5f"}}},
{"data":{"values":[{"p":1.54458}]},
 "mark":{"type":"rule","strokeWidth":12,"color":"#00ffff"},
 "encoding":{"x":{"datum":{"year":2010,"month":12,"date":17,"hours":14,"minutes":49,"utc":true},"type":"temporal"},
  "x2":{"datum":{"year":2010,"month":12,"date":18,"hours":0,"minutes":34,"utc":true}},
  "y":{"field":"p","type":"quantitative"}}},
{"data":{"values":[{"t":"2010-12-17T19:45Z","p":1.54458,"s":"2010.12.17 19:45"}]},
 "mark":{"type":"text","font":"DejaVu Sans","fontSize":9,"align":"center","baseline":"middle","color":"#000000"},
 "encoding":{"x":{"field":"t","type":"temporal"},"y":{"field":"p","type":"quantitative"},"text":{"field":"s"}}}
]
}
